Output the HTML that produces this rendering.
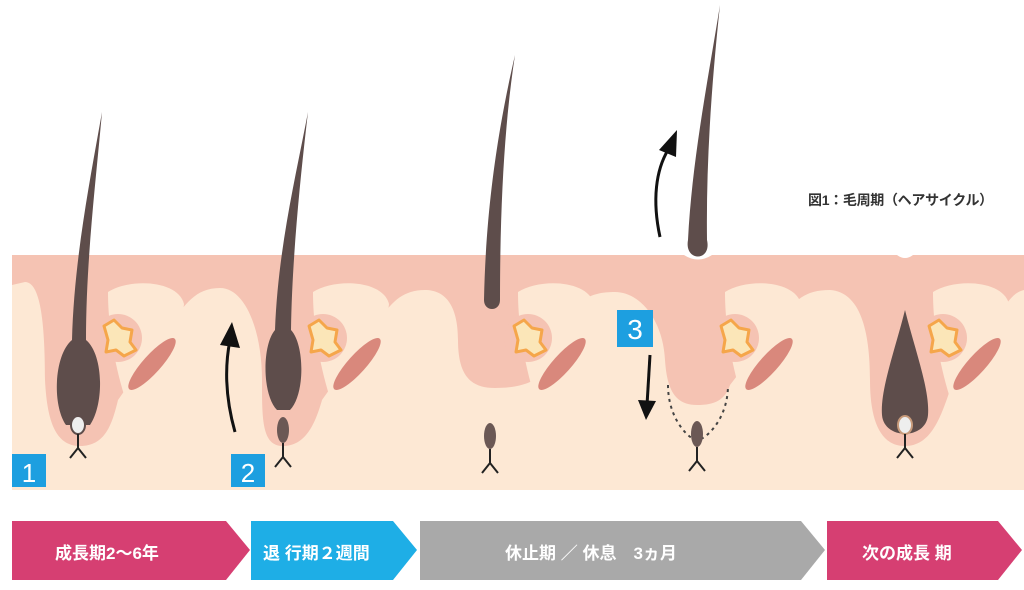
<!DOCTYPE html>
<html><head><meta charset="utf-8"><style>
html,body{margin:0;padding:0;background:#fff;}
body{width:1024px;height:590px;overflow:hidden;position:relative;font-family:"Liberation Sans","Noto Sans CJK JP",sans-serif;}
.t{position:absolute;color:#fff;font-weight:bold;font-size:17px;top:539px;white-space:pre;}
</style></head><body>
<svg width="1024" height="590" style="position:absolute;left:0;top:0">
<defs>
<g id="gl">
 <path d="M28,292 C50,278 98,280 104,304 L99,342 C84,374 62,392 45,398 C33,360 28,322 28,292 Z" fill="#fde8d4"/>
 <circle cx="38" cy="338" r="24" fill="#f5c3b3"/>
 <path d="M24,326 L34,320 L42,328 L52,330 L50,342 L56,350 L44,356 L36,350 L26,352 L28,340 Z" fill="#fbe6b8" stroke="#f5a64a" stroke-width="3" stroke-linejoin="round"/>
 <ellipse cx="0" cy="0" rx="34" ry="9" fill="#d9887c" transform="translate(72,364) rotate(-48)"/>
</g>
<g id="y"><path d="M0,0 L0,14 M0,14 L-8,24 M0,14 L8,24" stroke="#222" stroke-width="2" fill="none"/></g>
</defs>
<rect x="12" y="255" width="1012" height="235" fill="#fde8d4"/>
<path d="M12,255 L1024,255 L1024,290 C1015,292 1010,298 995,320 L950,390 C940,420 930,446 905,446 C880,446 870,420 870,380 C870,330 860,292 830,290 C805,290 795,300 780,320 L730,385 C725,400 715,405 697,405 C675,405 667,390 665,360 C663,320 640,292 615,292 C590,292 575,300 560,330 L548,365 C540,382 520,388 495,388 C470,388 458,375 458,340 C458,305 445,290 425,290 C400,290 390,305 375,325 L322,400 C315,425 305,446 283,446 C262,446 262,420 262,380 C262,330 245,288 220,288 C195,288 185,305 170,325 L118,400 C112,425 105,446 80,446 C55,446 47,420 45,380 C45,320 40,282 25,282 L12,285 Z" fill="#f5c3b3"/>
<path d="M684,255 Q698,264 712,255 Z" fill="#fff"/>
<path d="M897,255 Q905,261 913,255 Z" fill="#fff"/>
<use href="#gl" x="80"/><use href="#gl" x="285"/><use href="#gl" x="490"/><use href="#gl" x="697"/><use href="#gl" x="905"/>
<path d="M102,112 C96,180 86,260 86,340 C104,355 104,405 90,425 L66,425 C52,405 54,355 72,340 C74,260 90,180 102,112 Z" fill="#5e4d4b"/>
<ellipse cx="78" cy="425" rx="7" ry="9" fill="#eee" stroke="#5e4d4b" stroke-width="2"/>
<use href="#y" x="78" y="434"/>
<path d="M308,112 C300,180 292,260 291,330 C305,345 305,395 290,410 L277,410 C262,395 262,345 275,330 C278,250 295,180 308,112 Z" fill="#5e4d4b"/>
<ellipse cx="283" cy="430" rx="6" ry="13" fill="#6b5855"/>
<use href="#y" x="283" y="443"/>
<path d="M515,55 C505,120 500,200 500,300 C500,312 484,312 484,300 C486,200 500,120 515,55 Z" fill="#5e4d4b"/>
<ellipse cx="490" cy="436" rx="6" ry="13" fill="#6b5855"/>
<use href="#y" x="490" y="449"/>
<path d="M720,5 C712,80 706,160 707,240 C712,262 684,262 688,240 C692,160 708,80 720,5 Z" fill="#5e4d4b"/>
<path d="M668,385 C668,420 690,440 697,440 C705,440 728,420 728,385" stroke="#444" stroke-width="2" stroke-dasharray="3,4" fill="none"/>
<ellipse cx="697" cy="434" rx="6" ry="13" fill="#6b5855"/>
<use href="#y" x="697" y="447"/>
<path d="M905,310 C915,350 930,390 928,415 C926,440 884,440 882,415 C880,390 895,350 905,310 Z" fill="#5e4d4b"/>
<ellipse cx="905" cy="425" rx="7" ry="9" fill="#eee" stroke="#c89a7a" stroke-width="2"/>
<use href="#y" x="905" y="434"/>
<path d="M235,432 C226,400 224,370 230,340" stroke="#111" stroke-width="3" fill="none"/>
<path d="M220,345 L232,322 L240,348 Z" fill="#111"/>
<path d="M660,237 C652,200 656,170 668,150" stroke="#111" stroke-width="3" fill="none"/>
<path d="M659,150 L677,130 L676,157 Z" fill="#111"/>
<path d="M650,355 L647,405" stroke="#111" stroke-width="3" fill="none"/>
<path d="M638,400 L646,420 L656,401 Z" fill="#111"/>
<rect x="12" y="454" width="34" height="33" fill="#1d9fe0"/>
<rect x="231" y="454" width="34" height="33" fill="#1d9fe0"/>
<rect x="617" y="310" width="36" height="37" fill="#1d9fe0"/>
<text x="29" y="482" font-size="26" fill="#fff" text-anchor="middle" font-family="Liberation Sans">1</text>
<text x="248" y="482" font-size="26" fill="#fff" text-anchor="middle" font-family="Liberation Sans">2</text>
<text x="635" y="339" font-size="28" fill="#fff" text-anchor="middle" font-family="Liberation Sans">3</text>
<path d="M12,521 L226,521 L250,550 L226,580 L12,580 Z" fill="#d63f72"/>
<path d="M251,521 L393,521 L417,550 L393,580 L251,580 Z" fill="#1eaee6"/>
<path d="M420,521 L801,521 L825,550 L801,580 L420,580 Z" fill="#a9a9a9"/>
<path d="M827,521 L998,521 L1022,550 L998,580 L827,580 Z" fill="#d63f72"/>
</svg>
<div style="position:absolute;left:808px;top:190px;font-size:14px;font-weight:bold;color:#333;white-space:nowrap;letter-spacing:-0.3px">図1：毛周期（ヘアサイクル）</div>
<div class="t" style="left:55px">成長期2～6年</div>
<div class="t" style="left:263px">退 行期２週間</div>
<div class="t" style="left:505px">休止期 ／ 休息　3ヵ月</div>
<div class="t" style="left:862px">次の成長 期</div>
</body></html>
